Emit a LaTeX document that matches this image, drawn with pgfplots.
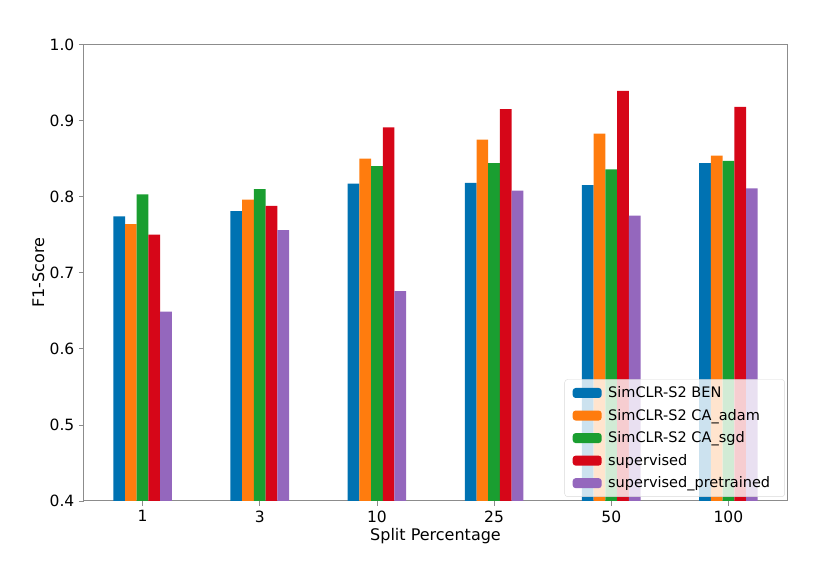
\documentclass[border=0pt]{standalone}
\usepackage{fontspec}
\setmainfont{DejaVu Sans}
\usepackage{pgfplots}
\pgfplotsset{compat=1.18}
\definecolor{c0}{RGB}{0,114,178}
\definecolor{c1}{RGB}{255,124,14}
\definecolor{c2}{RGB}{26,158,48}
\definecolor{c3}{RGB}{214,6,24}
\definecolor{c4}{RGB}{148,103,189}
\definecolor{spine}{RGB}{140,140,140}
\begin{document}
\fontsize{13.5}{16}\selectfont
\begin{tikzpicture}
\begin{axis}[
  scale only axis,
  width=703pt, height=456.5pt,
  xmin=-0.5, xmax=5.5, ymin=0.4, ymax=1.0,
  xtick={0,1,2,3,4,5},
  xticklabels={1,3,10,25,50,100},
  ytick={0.4,0.5,0.6,0.7,0.8,0.9,1.0},
  yticklabel style={/pgf/number format/.cd, fixed, fixed zerofill, precision=1},
  /pgf/number format/assume math mode=true,
  tick align=outside,
  major tick length=5pt,
  tick style={spine, line width=0.8pt},
  axis line style={spine, line width=1pt},
  xtick pos=bottom, ytick pos=left,
  tick label style={font=\fontsize{15.5}{18}\selectfont, black},
  label style={font=\fontsize{16}{19}\selectfont, black},
  xlabel={Split Percentage},
  ylabel={F1-Score},
  xlabel style={yshift=3pt},
  ylabel style={yshift=-4pt},
  ybar, bar width=0.1,
  legend image code/.code={\fill[#1, draw=none, fill opacity=1] (0pt,-5pt) rectangle (29pt,5pt);},
  legend style={at={(0.997,0.009)}, anchor=south east, draw=black!15, rounded corners=3pt,
    fill=white, fill opacity=0.8, text opacity=1, font=\fontsize{14.5}{16}\selectfont,
    row sep=5.5pt, inner xsep=8pt, inner ysep=5pt, nodes={inner xsep=6.5pt}},
  legend cell align=left,
]
\addplot[fill=c0, draw=none, bar shift=-0.2] coordinates {(0,0.774) (1,0.781) (2,0.817) (3,0.818) (4,0.815) (5,0.844)};
\addplot[fill=c1, draw=none, bar shift=-0.1] coordinates {(0,0.764) (1,0.796) (2,0.850) (3,0.875) (4,0.883) (5,0.854)};
\addplot[fill=c2, draw=none, bar shift=0] coordinates {(0,0.803) (1,0.810) (2,0.840) (3,0.844) (4,0.836) (5,0.847)};
\addplot[fill=c3, draw=none, bar shift=0.1] coordinates {(0,0.750) (1,0.788) (2,0.891) (3,0.915) (4,0.939) (5,0.918)};
\addplot[fill=c4, draw=none, bar shift=0.2] coordinates {(0,0.649) (1,0.756) (2,0.676) (3,0.808) (4,0.775) (5,0.811)};
\legend{SimCLR-S2 BEN, SimCLR-S2 CA\_adam, SimCLR-S2 CA\_sgd, supervised, supervised\_pretrained}
\end{axis}
\path[use as bounding box] ([shift={(-84pt,-63pt)}]current axis.south west) rectangle ([shift={(41pt,44.5pt)}]current axis.north east);
\end{tikzpicture}
\end{document}
